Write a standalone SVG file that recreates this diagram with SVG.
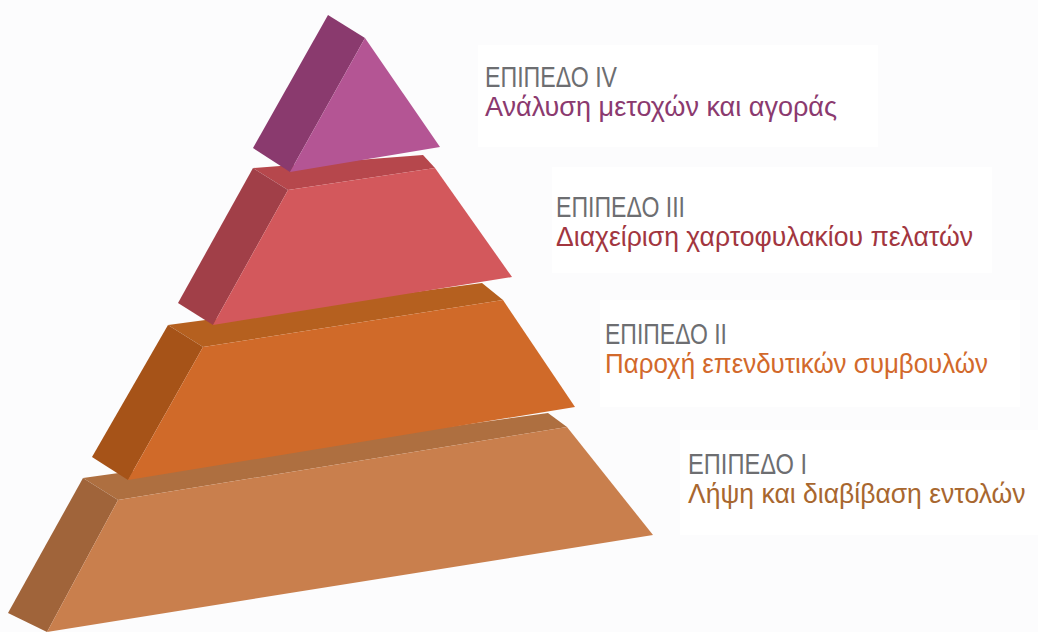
<svg xmlns="http://www.w3.org/2000/svg" width="1038" height="632" viewBox="0 0 1038 632">
  <style>
    .lvl { font-family: "Liberation Sans", "DejaVu Sans", sans-serif; font-size: 29px; fill: #6d6e71; }
    .dsc { font-family: "Liberation Sans", "DejaVu Sans", sans-serif; font-size: 28px; }
    .box { fill: #ffffff; }
  </style>
  <rect x="0" y="0" width="1038" height="632" fill="#fcfcfd"/>
  <g id="label-boxes">
    <rect class="box" x="478" y="45" width="400" height="102"/>
    <rect class="box" x="552" y="167" width="440" height="106"/>
    <rect class="box" x="600" y="300" width="420" height="107"/>
    <rect class="box" x="680" y="430" width="358" height="105"/>
  </g>

  <g id="tier1">
    <polygon points="83,478 548,413 567,427 118,500" fill="#ae6f40"/>
    <polygon points="83,478 118,500 47,632 8,613" fill="#a0643a"/>
    <polygon points="118,500 567,427 653,535 47,632" fill="#c97f4d"/>
  </g>
  <g id="tier2">
    <polygon points="168,325 482,283 503,300 203,347" fill="#b5601f"/>
    <polygon points="168,325 203,347 128,480 92,457" fill="#a65318"/>
    <polygon points="203,347 503,300 575,407 128,480" fill="#d06a29"/>
  </g>
  <g id="tier3">
    <polygon points="253,168 423,155 435,168 288,190" fill="#b6474c"/>
    <polygon points="253,168 288,190 213,325 178,303" fill="#a13f48"/>
    <polygon points="288,190 435,168 512,277 213,325" fill="#d3585c"/>
  </g>
  <g id="tier4">
    <polygon points="328,15 365,38 290,172 253,148" fill="#8a3a6e"/>
    <polygon points="365,38 440,147 290,172" fill="#b45594"/>
  </g>

  <g id="label4">
    <text class="lvl" x="485" y="87" textLength="132" lengthAdjust="spacingAndGlyphs">ΕΠΙΠΕΔΟ IV</text>
    <text class="dsc" x="485" y="116" fill="#8b3a6f" textLength="352" lengthAdjust="spacingAndGlyphs">Ανάλυση μετοχών και αγοράς</text>
  </g>
  <g id="label3">
    <text class="lvl" x="556" y="217" textLength="129" lengthAdjust="spacingAndGlyphs">ΕΠΙΠΕΔΟ III</text>
    <text class="dsc" x="556" y="246" fill="#a2363f" textLength="417" lengthAdjust="spacingAndGlyphs">Διαχείριση χαρτοφυλακίου πελατών</text>
  </g>
  <g id="label2">
    <text class="lvl" x="605" y="344" textLength="122" lengthAdjust="spacingAndGlyphs">ΕΠΙΠΕΔΟ II</text>
    <text class="dsc" x="605" y="373" fill="#d2692b" textLength="383" lengthAdjust="spacingAndGlyphs">Παροχή επενδυτικών συμβουλών</text>
  </g>
  <g id="label1">
    <text class="lvl" x="688" y="474" textLength="119" lengthAdjust="spacingAndGlyphs">ΕΠΙΠΕΔΟ I</text>
    <text class="dsc" transform="translate(688,503) scale(0.9,1)" x="0" y="0" fill="#a8672f" textLength="375" lengthAdjust="spacingAndGlyphs">Λήψη και διαβίβαση εντολών</text>
  </g>
</svg>
